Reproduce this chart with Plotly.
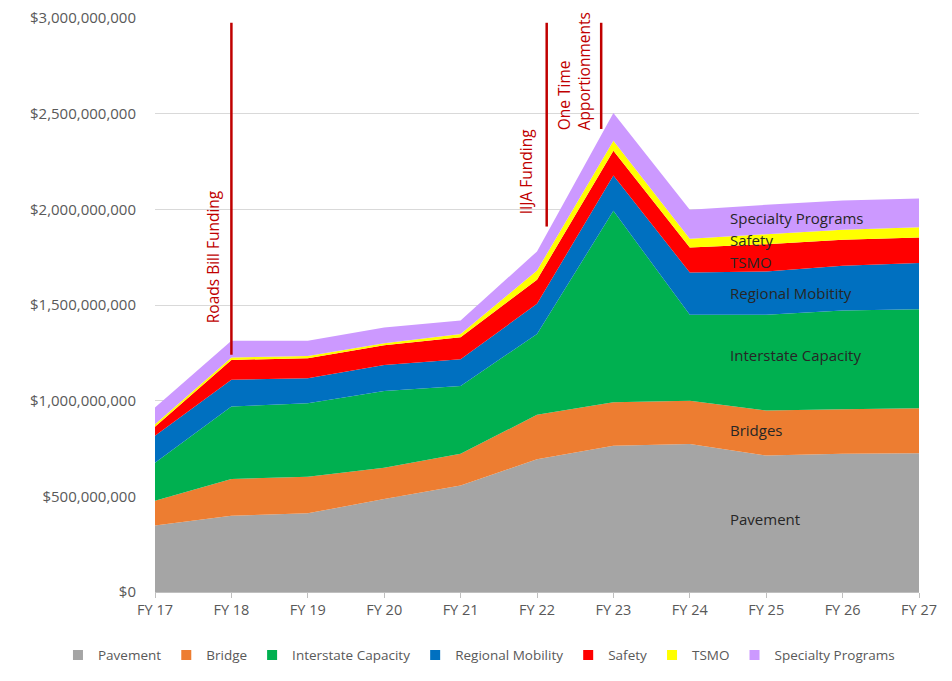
import plotly.graph_objects as go

# ---------------------------------------------------------------------------
# Data (USD)
# ---------------------------------------------------------------------------
years = ["FY 17", "FY 18", "FY 19", "FY 20", "FY 21", "FY 22",
         "FY 23", "FY 24", "FY 25", "FY 26", "FY 27"]

pavement = [347e6, 399e6, 411e6, 486e6, 556e6, 694e6, 765e6, 774e6, 713e6, 722e6, 725e6]
bridge = [130e6, 192e6, 192e6, 164e6, 166e6, 232e6, 227e6, 225e6, 235e6, 233e6, 236e6]
interstate = [199e6, 378e6, 384e6, 401e6, 355e6, 423e6, 1000e6, 450e6, 501e6, 516e6, 517e6]
regional = [141e6, 140e6, 130e6, 136e6, 140e6, 157e6, 185e6, 221e6, 226e6, 234e6, 241e6]
safety = [47e6, 104e6, 105e6, 103e6, 115e6, 126e6, 129e6, 130e6, 143e6, 136e6, 134e6]
tsmo = [13e6, 12e6, 12e6, 10e6, 16e6, 48e6, 52e6, 46e6, 52e6, 52e6, 54e6]
specialty = [87e6, 88e6, 79e6, 82e6, 71e6, 100e6, 145e6, 152e6, 154e6, 153e6, 150e6]

series_names = ["Pavement", "Bridge", "Interstate Capacity", "Regional Mobility",
                "Safety", "TSMO", "Specialty Programs"]
series_values = [pavement, bridge, interstate, regional, safety, tsmo, specialty]

# in-chart labels (text as in the original)
band_labels = ["Specialty Programs", "Safety", "TSMO", "Regional Mobitity",
               "Interstate Capacity", "Bridges", "Pavement"]

# ---------------------------------------------------------------------------
# Styles
# ---------------------------------------------------------------------------
COLORS = ["#a5a5a5", "#ed7d31", "#00b050", "#0070c0", "#ff0000", "#ffff00", "#cc99ff"]
FONT = "'Open Sans', sans-serif"
EVENT_RED = "#c00000"

fig = go.Figure()
for name, vals, col in zip(series_names, series_values, COLORS):
    fig.add_trace(go.Scatter(
        x=years, y=vals, name=name,
        mode="none", stackgroup="one",
        fillcolor=col, showlegend=False,
    ))

# legend entries with small square swatches
for name, col in zip(series_names, COLORS):
    fig.add_trace(go.Scatter(
        x=[None], y=[None], name=name, mode="markers",
        marker=dict(symbol="square", size=10, color=col),
    ))

# ---------------------------------------------------------------------------
# Event markers
# ---------------------------------------------------------------------------
events = [
    # x (category index), y bottom, y top
    (1.0, 1.24e9, 2.975e9),
    (5.127, 1.91e9, 2.975e9),
    (5.84, 2.42e9, 2.975e9),
]
for ex, y0, y1 in events:
    fig.add_shape(type="line", xref="x", yref="y", x0=ex, x1=ex, y0=y0, y1=y1,
                  line=dict(color=EVENT_RED, width=2.5))

event_text = [
    ("Roads Bill Funding", 0.76, 1.75e9),
    ("IIJA Funding", 4.86, 2.2e9),
    ("One Time<br>Apportionments", 5.48, 2.72e9),
]
for txt, tx, ty in event_text:
    fig.add_annotation(x=tx, y=ty, xref="x", yref="y", text=txt, showarrow=False,
                       textangle=-90, align="left",
                       font=dict(family=FONT, size=15.5, color=EVENT_RED))

label_y = [1.955e9, 1.84e9, 1.725e9, 1.563e9, 1.239e9, 0.847e9, 0.382e9]
for txt, ly in zip(band_labels, label_y):
    fig.add_annotation(x=7.5, y=ly, xref="x", yref="y", text=txt, showarrow=False,
                       xanchor="left", font=dict(family=FONT, size=15, color="#262626"))

# the page body keeps an 8px margin, so the figure is 8px smaller than the window
fig.update_layout(
    width=944, height=673,
    paper_bgcolor="white", plot_bgcolor="white",
    margin=dict(l=147, r=33, t=10, b=89, autoexpand=False),
    font=dict(family=FONT, size=14, color="#595959"),
    showlegend=True,
    legend=dict(orientation="h", x=-0.127, xanchor="left", y=-0.11, yanchor="middle",
                font=dict(family=FONT, size=13.5, color="#595959"),
                itemwidth=30, tracegroupgap=0, traceorder="normal"),
    xaxis=dict(
        range=[0, 10], showgrid=False, zeroline=False,
        showline=True, linecolor="#bfbfbf", linewidth=1,
        ticks="outside", ticklen=5, tickcolor="#bfbfbf",
        tickfont=dict(size=14.5, color="#595959"),
    ),
    yaxis=dict(
        range=[0, 3e9], dtick=5e8, tickprefix="$", tickformat=",.0f",
        showgrid=True, gridcolor="#d9d9d9", gridwidth=1, zeroline=False,
        showline=False, ticks="", ticklabelstandoff=18,
        ticklabeloverflow="allow",
        tickfont=dict(size=15, color="#595959"),
    ),
)

fig.write_html("out.html")
